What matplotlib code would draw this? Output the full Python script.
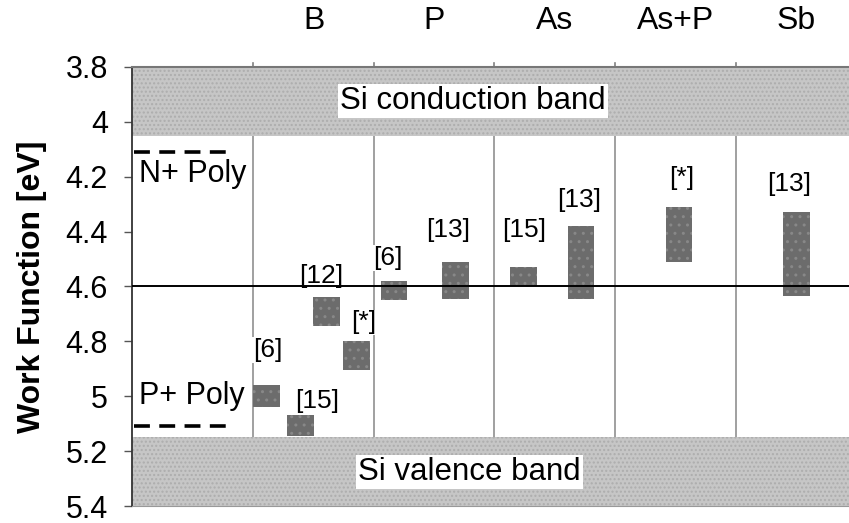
import matplotlib
matplotlib.use("Agg")
import matplotlib.pyplot as plt

plt.rcParams['font.family'] = ['Liberation Sans', 'DejaVu Sans']

# Dopant columns (the first, unlabeled column holds the poly-Si references)
dopants = ["B", "P", "As", "As+P", "Sb"]

# Reported work-function ranges [eV] for each dopant and reference
bar_dopant = ["B", "B", "B", "B", "P", "P", "As", "As", "As+P", "Sb"]
bar_ref = ["[6]", "[15]", "[12]", "[*]", "[6]", "[13]", "[15]", "[13]", "[*]", "[13]"]
wf_low = [4.96, 5.07, 4.64, 4.80, 4.58, 4.51, 4.53, 4.38, 4.31, 4.33]
wf_high = [5.04, 5.145, 4.745, 4.905, 4.65, 4.645, 4.60, 4.645, 4.51, 4.635]

# Reference levels [eV]
conduction_band = (3.8, 4.05)
valence_band = (5.15, 5.4)
n_poly = 4.11
p_poly = 5.11
midgap = 4.6

y_ticks = [3.8, 4.0, 4.2, 4.4, 4.6, 4.8, 5.0, 5.2, 5.4]
y_ticklabels = ["3.8", "4", "4.2", "4.4", "4.6", "4.8", "5", "5.2", "5.4"]

# Layout: position of each bar inside its column, and label nudges (pixels)
bar_offset = [0.108, 0.39, 0.606, 0.855, 0.166, 0.676, 0.241, 0.718, 0.531, 0.506]
label_shift = [(1, 35), (17, 14), (-5, 21), (7, 19), (-6, 23), (-7, 32),
               (1, 37), (-2, 26), (3, 29), (-8, 28)]
bar_width = 0.222

fig = plt.figure(figsize=(8.49, 5.23), dpi=100)
ax = fig.add_axes([131.5 / 849, 17 / 523, 1 - 131.5 / 849, 439 / 523])

ax.set_xlim(-0.01, 5.94)
ax.set_ylim(5.4, 3.8)

# column separators
for i in range(1, len(dopants) + 1):
    ax.axvline(i, color="#a0a0a0", lw=1.4, zorder=1)

# silicon band regions
band_kw = dict(facecolor="#c6c6c6", edgecolor="#adadad", hatch="....",
               linewidth=0, zorder=2)
ax.axhspan(*conduction_band, **band_kw)
ax.axhspan(*valence_band, **band_kw)
ax.text(2.82, 3.925, "Si conduction band", fontsize=22.5, ha="center",
        va="center", zorder=5,
        bbox=dict(facecolor="white", edgecolor="none", pad=1.5))
ax.text(2.79, 5.275, "Si valence band", fontsize=22.5, ha="center",
        va="center", zorder=5,
        bbox=dict(facecolor="white", edgecolor="none", pad=1.5))

# poly-Si gate references
ax.plot([0.01, 0.82], [n_poly, n_poly], color="black", lw=2.6,
        dashes=(4.4, 2.6), zorder=3)
ax.plot([0.01, 0.84], [p_poly, p_poly], color="black", lw=2.6,
        dashes=(4.4, 2.6), zorder=3)
ax.text(0.05, 4.19, "N+ Poly", fontsize=22, ha="left", va="center", zorder=5)
ax.text(0.05, 5.0, "P+ Poly", fontsize=22, ha="left", va="center", zorder=5)

# work-function ranges
for d, ref, lo, hi, off, (dx, dy) in zip(bar_dopant, bar_ref, wf_low, wf_high,
                                          bar_offset, label_shift):
    xc = dopants.index(d) + 1 + off
    ax.bar(xc, hi - lo, bottom=lo, width=bar_width, color="#6c6c6c",
           edgecolor="#888888", hatch="..", linewidth=0, zorder=3)
    ax.annotate(ref, xy=(xc, lo), xytext=(dx, dy), textcoords="offset pixels",
                ha="center", va="center", fontsize=19, zorder=4,
                bbox=dict(facecolor="white", edgecolor="none", pad=0.5))

# midgap line
ax.axhline(midgap, color="black", lw=1.4, zorder=6)

# axes styling
ax.set_yticks(y_ticks)
ax.set_yticklabels(y_ticklabels, fontsize=22)
ax.tick_params(axis="y", length=6, width=1, color="#555555", pad=11)
ax.set_ylabel("Work Function [eV]", fontsize=23, fontweight="bold", labelpad=13)

ax.set_xticks([])
top = ax.secondary_xaxis("top")
top.set_xticks([i + 0.5 for i in range(1, len(dopants) + 1)])
top.set_xticklabels(dopants, fontsize=23)
top.tick_params(length=0, pad=22)
top.spines["top"].set_visible(False)

# short tick marks above the column separators
for i in range(1, len(dopants) + 1):
    ax.plot([i, i], [3.8, 3.785], color="#808080", lw=1.2, clip_on=False,
            zorder=1)

ax.spines["right"].set_visible(False)
ax.spines["top"].set_color("#777777")
ax.spines["top"].set_linewidth(1.5)
ax.spines["bottom"].set_color("#999999")
ax.spines["left"].set_color("#333333")
ax.spines["left"].set_linewidth(1.3)

fig.savefig("out.png", dpi=100)
